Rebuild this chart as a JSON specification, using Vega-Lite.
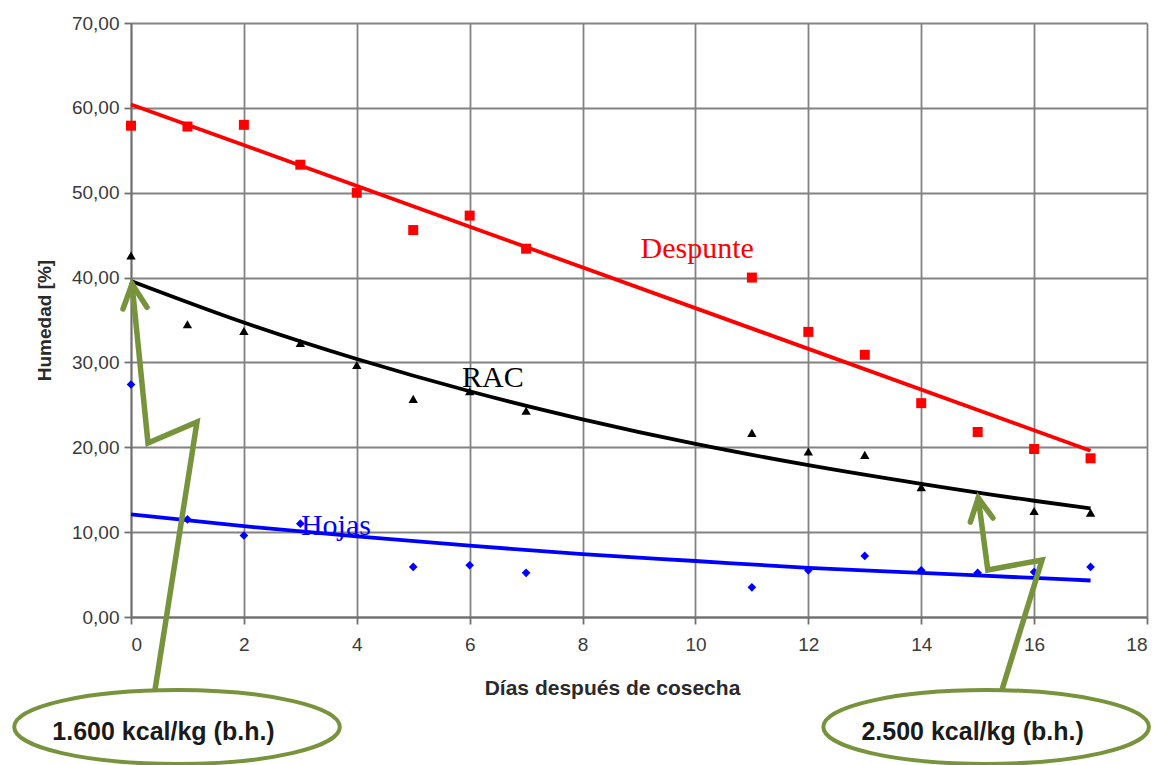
{
  "$schema": "https://vega.github.io/schema/vega-lite/v6.json",
  "width": 1016,
  "height": 594,
  "autosize": {"type": "none"},
  "padding": {"left": 131, "top": 23, "right": 14, "bottom": 148},
  "background": "white",
  "config": {"view": {"stroke": null}, "font": "Liberation Sans"},
  "datasets": {
    "puntos": [
      {"serie": "Despunte", "dia": 0, "humedad": 57.9},
      {"serie": "Despunte", "dia": 1, "humedad": 57.8},
      {"serie": "Despunte", "dia": 2, "humedad": 58.0},
      {"serie": "Despunte", "dia": 3, "humedad": 53.3},
      {"serie": "Despunte", "dia": 4, "humedad": 50.0},
      {"serie": "Despunte", "dia": 5, "humedad": 45.6},
      {"serie": "Despunte", "dia": 6, "humedad": 47.3},
      {"serie": "Despunte", "dia": 7, "humedad": 43.4},
      {"serie": "Despunte", "dia": 11, "humedad": 40.0},
      {"serie": "Despunte", "dia": 12, "humedad": 33.6},
      {"serie": "Despunte", "dia": 13, "humedad": 30.9},
      {"serie": "Despunte", "dia": 14, "humedad": 25.2},
      {"serie": "Despunte", "dia": 15, "humedad": 21.8},
      {"serie": "Despunte", "dia": 16, "humedad": 19.8},
      {"serie": "Despunte", "dia": 17, "humedad": 18.7},
      {"serie": "RAC", "dia": 0, "humedad": 42.6},
      {"serie": "RAC", "dia": 1, "humedad": 34.5},
      {"serie": "RAC", "dia": 2, "humedad": 33.7},
      {"serie": "RAC", "dia": 3, "humedad": 32.3},
      {"serie": "RAC", "dia": 4, "humedad": 29.7},
      {"serie": "RAC", "dia": 5, "humedad": 25.7},
      {"serie": "RAC", "dia": 6, "humedad": 26.6},
      {"serie": "RAC", "dia": 7, "humedad": 24.3},
      {"serie": "RAC", "dia": 11, "humedad": 21.7},
      {"serie": "RAC", "dia": 12, "humedad": 19.5},
      {"serie": "RAC", "dia": 13, "humedad": 19.1},
      {"serie": "RAC", "dia": 14, "humedad": 15.3},
      {"serie": "RAC", "dia": 16, "humedad": 12.5},
      {"serie": "RAC", "dia": 17, "humedad": 12.3},
      {"serie": "Hojas", "dia": 0, "humedad": 27.4},
      {"serie": "Hojas", "dia": 1, "humedad": 11.5},
      {"serie": "Hojas", "dia": 2, "humedad": 9.6},
      {"serie": "Hojas", "dia": 3, "humedad": 11.0},
      {"serie": "Hojas", "dia": 5, "humedad": 5.9},
      {"serie": "Hojas", "dia": 6, "humedad": 6.1},
      {"serie": "Hojas", "dia": 7, "humedad": 5.2},
      {"serie": "Hojas", "dia": 11, "humedad": 3.5},
      {"serie": "Hojas", "dia": 12, "humedad": 5.5},
      {"serie": "Hojas", "dia": 13, "humedad": 7.2},
      {"serie": "Hojas", "dia": 14, "humedad": 5.5},
      {"serie": "Hojas", "dia": 15, "humedad": 5.2},
      {"serie": "Hojas", "dia": 16, "humedad": 5.3},
      {"serie": "Hojas", "dia": 17, "humedad": 5.9}
    ],
    "tendencia": [
      {"serie": "Despunte", "dia": 0, "humedad": 60.4},
      {"serie": "Despunte", "dia": 17, "humedad": 19.6},
      {"serie": "RAC", "dia": 0, "humedad": 39.6},
      {"serie": "RAC", "dia": 2, "humedad": 34.7},
      {"serie": "RAC", "dia": 4, "humedad": 30.4},
      {"serie": "RAC", "dia": 6, "humedad": 26.6},
      {"serie": "RAC", "dia": 8, "humedad": 23.3},
      {"serie": "RAC", "dia": 10, "humedad": 20.4},
      {"serie": "RAC", "dia": 12, "humedad": 17.9},
      {"serie": "RAC", "dia": 14, "humedad": 15.7},
      {"serie": "RAC", "dia": 16, "humedad": 13.7},
      {"serie": "RAC", "dia": 17, "humedad": 12.8},
      {"serie": "Hojas", "dia": 0, "humedad": 12.1},
      {"serie": "Hojas", "dia": 2, "humedad": 10.7},
      {"serie": "Hojas", "dia": 4, "humedad": 9.5},
      {"serie": "Hojas", "dia": 6, "humedad": 8.4},
      {"serie": "Hojas", "dia": 8, "humedad": 7.4},
      {"serie": "Hojas", "dia": 10, "humedad": 6.6},
      {"serie": "Hojas", "dia": 12, "humedad": 5.8},
      {"serie": "Hojas", "dia": 14, "humedad": 5.2},
      {"serie": "Hojas", "dia": 16, "humedad": 4.6},
      {"serie": "Hojas", "dia": 17, "humedad": 4.3}
    ],
    "etiquetas": [
      {"serie": "Despunte", "texto": "Despunte", "dia": 10.03, "humedad": 42.3},
      {"serie": "RAC", "texto": "RAC", "dia": 6.41, "humedad": 27.1},
      {"serie": "Hojas", "texto": "Hojas", "dia": 3.63, "humedad": 9.66}
    ],
    "flechas": [
      {"seg": "a1", "k": 1, "dia": 0.425, "humedad": -8.6},
      {"seg": "a1", "k": 2, "dia": 1.169, "humedad": 22.98},
      {"seg": "a1", "k": 3, "dia": 0.301, "humedad": 20.5},
      {"seg": "a1", "k": 4, "dia": 0.018, "humedad": 39.24},
      {"seg": "a2", "k": 1, "dia": -0.142, "humedad": 36.3},
      {"seg": "a2", "k": 2, "dia": 0.018, "humedad": 39.24},
      {"seg": "a2", "k": 3, "dia": 0.283, "humedad": 36.5},
      {"seg": "b1", "k": 1, "dia": 15.43, "humedad": -8.6},
      {"seg": "b1", "k": 2, "dia": 16.14, "humedad": 6.72},
      {"seg": "b1", "k": 3, "dia": 15.18, "humedad": 5.54},
      {"seg": "b1", "k": 4, "dia": 15.01, "humedad": 14.02},
      {"seg": "b2", "k": 1, "dia": 14.87, "humedad": 11.19},
      {"seg": "b2", "k": 2, "dia": 15.01, "humedad": 14.02},
      {"seg": "b2", "k": 3, "dia": 15.27, "humedad": 11.67}
    ],
    "elipses": [
      {"texto": "1.600 kcal/kg (b.h.)", "dia": 0.815, "humedad": -12.96},
      {"texto": "2.500 kcal/kg (b.h.)", "dia": 15.15, "humedad": -12.96}
    ],
    "textos_elipse": [
      {"texto": "1.600 kcal/kg (b.h.)", "dia": 0.576, "humedad": -13.55},
      {"texto": "2.500 kcal/kg (b.h.)", "dia": 14.91, "humedad": -13.55}
    ]
  },
  "encoding": {
    "x": {
      "field": "dia",
      "type": "quantitative",
      "scale": {"domain": [0, 18], "nice": false, "zero": false},
      "axis": {
        "title": "Días después de cosecha",
        "values": [0, 2, 4, 6, 8, 10, 12, 14, 16, 18],
        "format": "d",
        "grid": true,
        "gridColor": "#828282",
        "gridWidth": 1.8,
        "domainColor": "#707070",
        "domainWidth": 1.8,
        "tickColor": "#707070",
        "tickWidth": 1.8,
        "tickSize": 7,
        "labelFont": "Liberation Sans",
        "labelFontSize": 19,
        "labelColor": "#3a3a3a",
        "labelPadding": 11,
        "titleFont": "Liberation Sans",
        "titleFontWeight": "bold",
        "titleFontSize": 21,
        "titleColor": "#2a2a2a",
        "titleX": 481,
        "titleY": 77,
        "titleBaseline": "alphabetic"
      }
    },
    "y": {
      "field": "humedad",
      "type": "quantitative",
      "scale": {"domain": [0, 70], "nice": false},
      "axis": {
        "title": "Humedad [%]",
        "values": [0, 10, 20, 30, 40, 50, 60, 70],
        "labelExpr": "replace(format(datum.value, '.2f'), '.', ',')",
        "grid": true,
        "gridColor": "#828282",
        "gridWidth": 1.8,
        "domainColor": "#707070",
        "domainWidth": 1.8,
        "tickColor": "#707070",
        "tickWidth": 1.8,
        "tickSize": 7,
        "labelFont": "Liberation Sans",
        "labelFontSize": 19,
        "labelColor": "#3a3a3a",
        "labelPadding": 5,
        "titleFont": "Liberation Sans",
        "titleFontWeight": "bold",
        "titleFontSize": 19,
        "titleColor": "#2a2a2a",
        "titleX": -87,
        "titleY": 297,
        "titleBaseline": "middle"
      }
    }
  },
  "layer": [
    {
      "data": {"name": "tendencia"},
      "mark": {"type": "line", "strokeWidth": 3.8, "interpolate": "monotone"},
      "encoding": {
        "color": {"field": "serie", "type": "nominal", "scale": {"domain": ["Despunte", "RAC", "Hojas"], "range": ["#ff0000", "#000000", "#0000ff"]}, "legend": null}
      }
    },
    {
      "data": {"name": "puntos"},
      "mark": {"type": "point", "filled": true, "opacity": 1},
      "encoding": {
        "color": {"field": "serie", "type": "nominal", "scale": {"domain": ["Despunte", "RAC", "Hojas"], "range": ["#ff0000", "#000000", "#0000ff"]}, "legend": null},
        "shape": {"field": "serie", "type": "nominal", "scale": {"domain": ["Despunte", "RAC", "Hojas"], "range": ["square", "triangle-up", "diamond"]}, "legend": null},
        "size": {"field": "serie", "type": "nominal", "scale": {"domain": ["Despunte", "RAC", "Hojas"], "range": [100, 75, 55]}, "legend": null}
      }
    },
    {
      "data": {"name": "etiquetas"},
      "mark": {"type": "text", "font": "Liberation Serif", "fontSize": 30, "align": "center", "baseline": "alphabetic"},
      "encoding": {
        "text": {"field": "texto"},
        "color": {"field": "serie", "type": "nominal", "scale": {"domain": ["Despunte", "RAC", "Hojas"], "range": ["#ff0000", "#000000", "#0000ff"]}, "legend": null}
      }
    },
    {
      "data": {"name": "flechas"},
      "mark": {"type": "line", "color": "#77933c", "strokeWidth": 5.5, "strokeCap": "round", "strokeJoin": "miter"},
      "encoding": {
        "detail": {"field": "seg"},
        "order": {"field": "k", "type": "quantitative"}
      }
    },
    {
      "data": {"name": "elipses"},
      "mark": {"type": "point", "shape": "M-1,0A1,0.227,0,1,0,1,0A1,0.227,0,1,0,-1,0Z", "size": 106000, "filled": true, "fill": "white", "stroke": "#77933c", "strokeWidth": 4, "opacity": 1}
    },
    {
      "data": {"name": "textos_elipse"},
      "mark": {"type": "text", "font": "Liberation Sans", "fontWeight": "bold", "fontSize": 25, "color": "#1a1a1a", "align": "center", "baseline": "middle"},
      "encoding": {"text": {"field": "texto"}}
    }
  ]
}
